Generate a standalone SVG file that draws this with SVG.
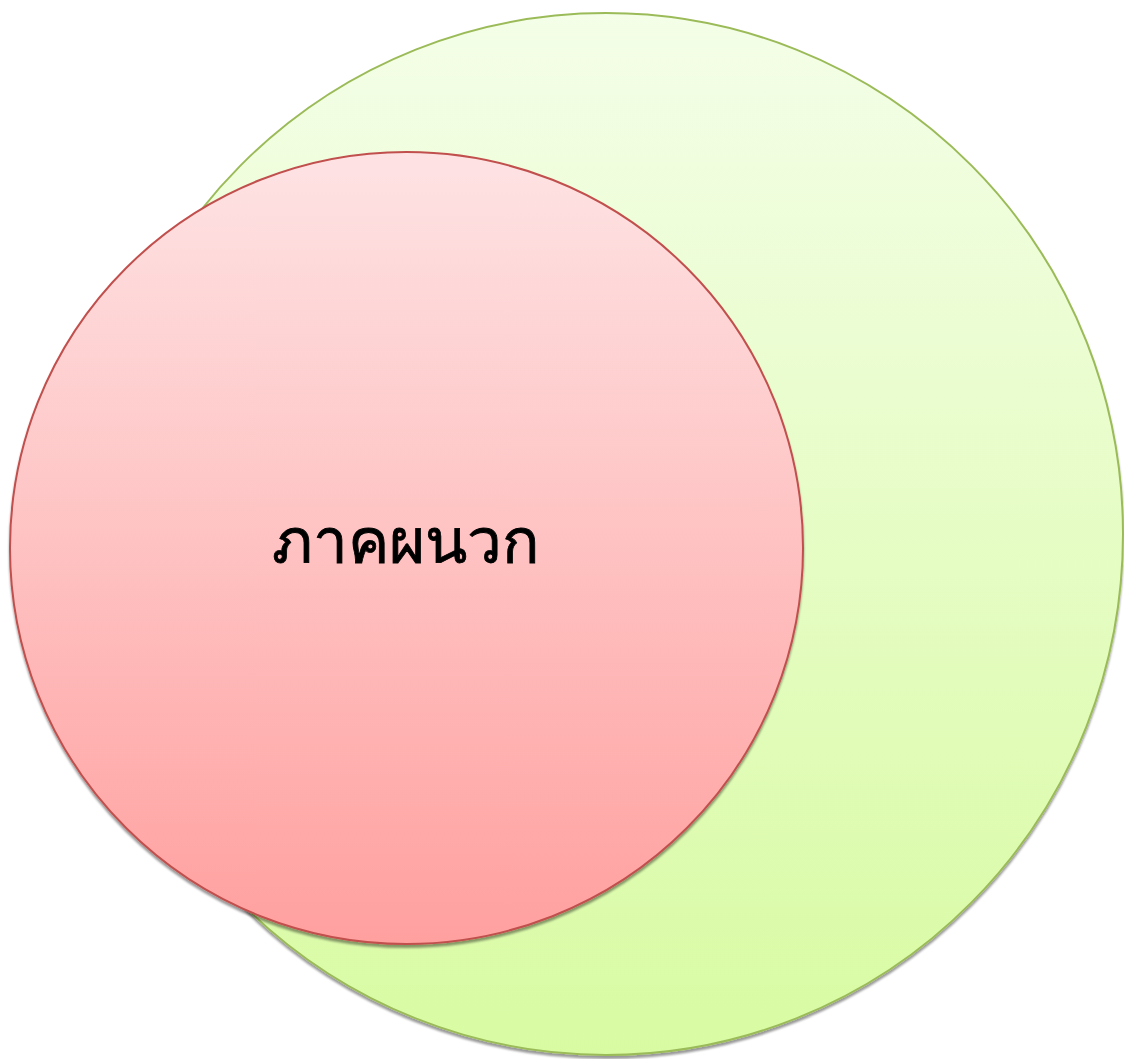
<svg xmlns="http://www.w3.org/2000/svg" width="1124" height="1059" viewBox="0 0 1124 1059">
<defs>
<linearGradient id="gG" x1="0" y1="0" x2="0" y2="1">
<stop offset="0" stop-color="#f4fee8"/>
<stop offset="1" stop-color="#d8fba2"/>
</linearGradient>
<linearGradient id="gR" x1="0" y1="0" x2="0" y2="1">
<stop offset="0" stop-color="#fee3e4"/>
<stop offset="1" stop-color="#ffa09f"/>
</linearGradient>
<filter id="sh" x="-5%" y="-5%" width="110%" height="110%">
<feGaussianBlur in="SourceAlpha" stdDeviation="1"/>
<feOffset dx="0" dy="2.5" result="b"/>
<feFlood flood-color="#000" flood-opacity="0.4"/>
<feComposite in2="b" operator="in"/>
<feMerge><feMergeNode/><feMergeNode in="SourceGraphic"/></feMerge>
</filter>
<style>
.lbl{font-family:"Noto Sans",sans-serif;font-size:62px;fill:#000;stroke:#000;stroke-width:0.8px;text-anchor:middle}
</style>
</defs>
<rect width="1124" height="1059" fill="#fff"/>
<g id="green">
<ellipse cx="606" cy="534" rx="517" ry="521" fill="url(#gG)" stroke="#9bbb59" stroke-width="2" filter="url(#sh)"/>
</g>
<g id="red">
<ellipse cx="406.5" cy="548" rx="396.5" ry="396" fill="url(#gR)" stroke="#c0504d" stroke-width="2" filter="url(#sh)"/>
<text class="lbl" x="406" y="563">ภาคผนวก</text>
</g>
<g id="connectors"/>
</svg>
